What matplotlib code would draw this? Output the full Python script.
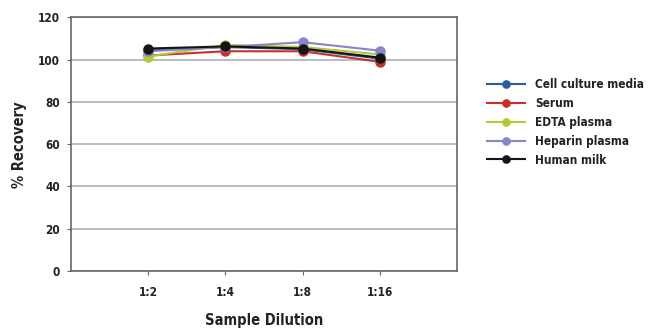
import matplotlib.pyplot as plt

plt.rcParams['font.family'] = ['DejaVu Sans']
plt.rcParams['font.weight'] = 'bold'
plt.rcParams['font.stretch'] = 'condensed'

dilutions = ['1:2', '1:4', '1:8', '1:16']
cell_culture = [104.5, 106, 105, 100.5]
serum = [102, 104, 104, 99]
edta_plasma = [101.5, 107, 106, 102.5]
heparin_plasma = [104, 106, 108.3, 104.3]
human_milk = [105.3, 106.3, 105.3, 101]

series = [
    ('Cell culture media', cell_culture, '#2b5c9c'),
    ('Serum', serum, '#c8302c'),
    ('EDTA plasma', edta_plasma, '#b3c935'),
    ('Heparin plasma', heparin_plasma, '#8585cc'),
    ('Human milk', human_milk, '#151515'),
]

fig = plt.figure(figsize=(6.5, 3.36), dpi=100)
ax = fig.add_axes([0.1092, 0.1935, 0.5938, 0.7545])

x = range(1, len(dilutions) + 1)
for name, vals, color in series:
    ax.plot(x, vals, marker='o', color=color, lw=1.5, markersize=6.5, label=name)

ax.set_xlim(0, 5)
ax.set_ylim(0, 120)
ax.set_yticks(range(0, 121, 20))
ax.set_xticks(list(x))
ax.set_xticklabels(dilutions)
ax.yaxis.grid(True, color='#b0b0b0', lw=1.2)
ax.set_axisbelow(True)
for side in ['left', 'bottom', 'right', 'top']:
    ax.spines[side].set_color('#666666')
    ax.spines[side].set_linewidth(1.2)
ax.tick_params(axis='both', direction='out', length=3, color='#666666',
               labelsize=8.5, colors='#222222')
ax.tick_params(axis='y', pad=5)
ax.tick_params(axis='x', pad=8)
ax.set_xlabel('Sample Dilution', fontsize=10.5, fontweight='bold',
              color='#222222', labelpad=10)
ax.set_ylabel('% Recovery', fontsize=10.5, fontweight='bold',
              color='#222222', labelpad=8)

ax.legend(loc='upper left', bbox_to_anchor=(487 / 650, 1 - 78 / 336),
          bbox_transform=fig.transFigure, frameon=False, borderpad=0,
          borderaxespad=0, fontsize=8.5, handlelength=3.2, handletextpad=0.9,
          labelspacing=0.5, markerscale=0.8, labelcolor='#222222')

fig.savefig('out.png', dpi=100)
